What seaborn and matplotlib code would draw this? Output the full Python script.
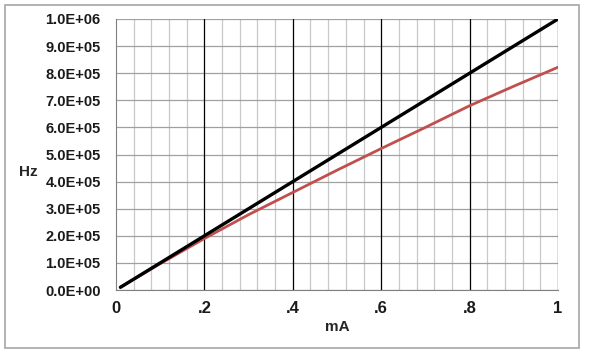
import matplotlib
matplotlib.use("Agg")
import matplotlib.pyplot as plt
import matplotlib.patches as patches
from matplotlib.ticker import MultipleLocator, FuncFormatter
import pandas as pd
import seaborn as sns

# values
current_ma = [0.01, 0.1, 0.2, 0.3, 0.4, 0.5, 0.6, 0.7, 0.8, 0.9, 1.0]
ideal_hz = [1.0e4, 1.0e5, 2.0e5, 3.0e5, 4.0e5, 5.0e5, 6.0e5, 7.0e5, 8.0e5, 9.0e5, 1.0e6]
measured_hz = [1.0e4, 9.7e4, 1.9e5, 2.78e5, 3.6e5, 4.42e5, 5.22e5, 6.0e5, 6.8e5, 7.52e5, 8.22e5]
x_ticks = [0, 0.2, 0.4, 0.6, 0.8, 1.0]
x_tick_labels = ["0", ".2", ".4", ".6", ".8", "1"]

sns.set_style("white")
plt.rcParams['font.family'] = ['Liberation Sans', 'DejaVu Sans']
plt.rcParams['font.weight'] = 'bold'

df = pd.DataFrame({'mA': current_ma, 'ideal': ideal_hz, 'measured': measured_hz})


def sci_label(v, pos):
    if v <= 0:
        return "0.0E+00"
    exp = len(str(int(round(v)))) - 1
    return "%.1fE+%02d" % (v / 10 ** exp, exp)


fig = plt.figure(figsize=(5.9, 3.52), dpi=100)
ax = fig.add_axes([116 / 590, 62 / 352, 442 / 590, 271 / 352])

# outer frame
fig.patches.append(patches.Rectangle((5 / 590, 4 / 352), 574 / 590, 343 / 352,
                                     transform=fig.transFigure, fill=False,
                                     edgecolor='#a6a6a6', linewidth=1.2))

ax.set_xlim(0, 1)
ax.set_ylim(0, 1.0e6)

# grid: light minor vertical, black major vertical, gray horizontal
ax.xaxis.set_minor_locator(MultipleLocator(0.04))
ax.grid(which='minor', axis='x', color='#c8c8c8', linewidth=0.9)
ax.grid(which='major', axis='y', color='#a0a0a0', linewidth=0.9)
for xv in x_ticks[1:]:
    ax.axvline(xv, color='black', linewidth=0.9, zorder=1.5)
ax.set_axisbelow(True)

sns.lineplot(data=df, x='mA', y='measured', color='#c0504d', linewidth=2.0, ax=ax)
sns.lineplot(data=df, x='mA', y='ideal', color='black', linewidth=2.4, ax=ax)

ax.set_xticks(x_ticks)
ax.set_xticklabels(x_tick_labels)
ax.yaxis.set_major_locator(MultipleLocator(1.0e5))
ax.yaxis.set_major_formatter(FuncFormatter(sci_label))

for s in ['top', 'right']:
    ax.spines[s].set_visible(False)
ax.spines['left'].set_color('#808080')
ax.spines['bottom'].set_color('#808080')

ax.tick_params(axis='y', which='major', direction='out', length=4, width=0.9,
               color='#808080', labelsize=10.5, pad=7)
ax.tick_params(axis='x', which='major', direction='out', length=4, width=0.9,
               color='#808080', labelsize=12, pad=4)
ax.tick_params(axis='x', which='minor', length=0)
for lab in ax.get_yticklabels() + ax.get_xticklabels():
    lab.set_fontweight('bold')
    lab.set_color('#1a1a1a')

ax.set_xlabel('mA', fontsize=11, fontweight='bold', labelpad=3)
ax.set_ylabel('')
fig.text(28 / 590, 1 - 172 / 352, 'Hz', fontsize=11, fontweight='bold', ha='center', va='center')

plt.savefig('out.png', dpi=100)
